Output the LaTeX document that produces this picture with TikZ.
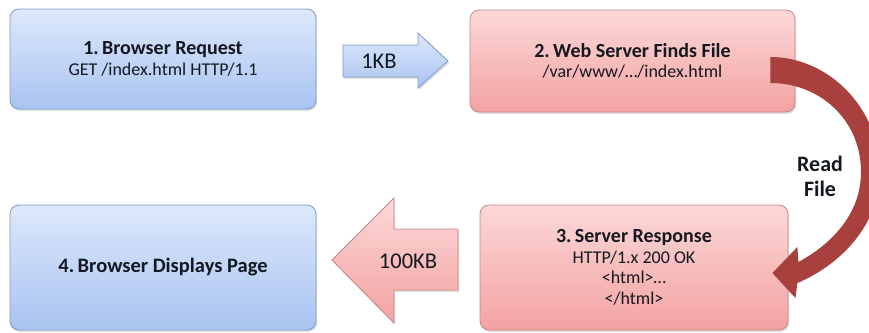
\documentclass[tikz,border=0pt]{standalone}
\usepackage{fontspec}
\setmainfont{Carlito}
\usetikzlibrary{shadows,calc}
\definecolor{blueTop}{HTML}{DDE8FB}
\definecolor{blueBot}{HTML}{A9C4F1}
\definecolor{blueEdge}{HTML}{7E9ACB}
\definecolor{redTop}{HTML}{FCD8D8}
\definecolor{redBot}{HTML}{F3A2A2}
\definecolor{redEdge}{HTML}{C88585}
\definecolor{arcred}{HTML}{A8403E}
\definecolor{ink}{HTML}{141820}
\newcommand{\ttl}[1]{{\fontsize{20}{20.5}\selectfont\bfseries #1}}
\begin{document}
\begin{tikzpicture}[x=1pt,y=-1pt,
  txt/.style={text=ink, font=\fontsize{18}{20.5}\selectfont, align=center, inner sep=0pt},
  lbl/.style={txt, font=\fontsize{22.5}{24}\selectfont},
  box/.style={txt, rounded corners=9pt, line width=0.8pt,
    drop shadow={shadow xshift=1.2pt, shadow yshift=-2pt, opacity=0.25}},
  bluebox/.style={box, draw=blueEdge, top color=blueTop, bottom color=blueBot},
  redbox/.style={box, draw=redEdge, top color=redTop, bottom color=redBot},
  bluearrow/.style={draw=blueEdge, line width=0.8pt, top color=blueTop, bottom color=blueBot,
    drop shadow={shadow xshift=1.2pt, shadow yshift=-2pt, opacity=0.25}},
  redarrow/.style={draw=redEdge, line width=0.8pt, top color=redTop, bottom color=redBot,
    drop shadow={shadow xshift=1.2pt, shadow yshift=-2pt, opacity=0.25}},
  bendarrow/.style={fill=arcred}
]
\useasboundingbox (0,0) rectangle (869,332);

\node[bluebox, minimum width=306pt, minimum height=100pt] (req) at (163,59)
  {\ttl{1.\,Browser Request}\\GET /index.html HTTP/1.1};
\node[redbox, minimum width=325pt, minimum height=102pt] (find) at (632.5,61)
  {\ttl{2.\,Web Server Finds File}\\/var/www/…/index.html};
\node[redbox, minimum width=308pt, minimum height=125pt] (resp) at (634,267.5)
  {\ttl{3.\,Server Response}\\HTTP/1.x 200 OK\\<html>…\\</html>};
\node[bluebox, minimum width=306pt, minimum height=125pt, font=\fontsize{20.5}{22}\selectfont] (disp) at (163,267.5)
  {\textbf{4.\,Browser Displays Page}};

% 1KB block arrow
\path[bluearrow] (343,45) -- (418,45) -- (418,33) -- (448,61) -- (418,88) -- (418,77) -- (343,77) -- cycle;
\node[lbl] (kb1) at (379,61) {1KB};

% 100KB block arrow
\path[redarrow] (458,229) -- (394,229) -- (394,198) -- (332,260) -- (394,323) -- (394,290) -- (458,290) -- cycle;
\node[lbl] (kb100) at (408,261) {100KB};

% curved "Read File" arrow from find to resp
\coordinate (so) at ($(find.east)+(-25,-4)$);
\coordinate (si) at ($(find.east)+(-25,22)$);
\coordinate (tip) at ($(resp.east)+(-16,5.5)$);
\fill[bendarrow] (so) .. controls (830,57) and (880,110) .. (880,172)
  .. controls (880,225) and (840,265) .. ($(tip)+(25,10)$)
  -- ($(tip)+(23,25)$) -- (tip) -- ($(tip)+(25,-26)$) -- ($(tip)+(26,-11)$)
  .. controls (830,245) and (861,215) .. (861,172)
  .. controls (861,120) and (820,83) .. (si) -- cycle;
\node[txt, font=\fontsize{22}{25}\selectfont\bfseries] (rf) at (820,176) {Read\\File};
\end{tikzpicture}
\end{document}
